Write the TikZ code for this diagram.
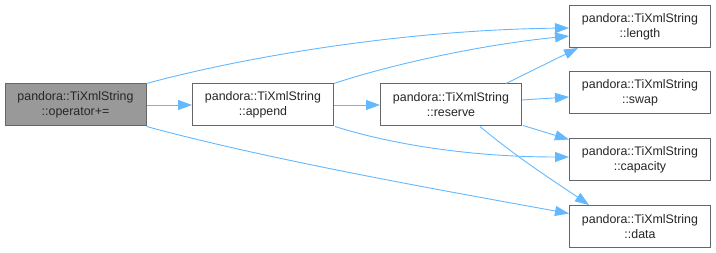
\documentclass[tikz,border=0pt]{standalone}
\usepackage{fontspec}
\setmainfont{Liberation Sans}
\usetikzlibrary{arrows.meta,calc}
\definecolor{edgeblue}{HTML}{63B8FF}
\definecolor{boxline}{HTML}{666666}
\definecolor{curfill}{HTML}{999999}
\begin{document}
\begin{tikzpicture}[x=1pt,y=-1pt,
  fn/.style={draw=boxline,line width=1pt,fill=white,minimum width=141pt,minimum height=42pt,
    inner sep=0pt,align=center,font=\fontsize{12.4}{15}\selectfont,text=black!85},
  cur/.style={fn,fill=curfill},
  call/.style={draw=edgeblue,line width=0.9pt,-{Triangle[length=14pt,width=10pt]},color=edgeblue}]
\useasboundingbox (0,0) rectangle (716,253);
% function boxes
\node[cur] (op)   at (75.5,105)  {pandora::TiXmlString\\::operator+=};
\node[fn]  (app)  at (263,105)   {pandora::TiXmlString\\::append};
\node[fn]  (res)  at (451,105)   {pandora::TiXmlString\\::reserve};
\node[fn]  (len)  at (640,26.5)  {pandora::TiXmlString\\::length};
\node[fn]  (swp)  at (640,93)    {pandora::TiXmlString\\::swap};
\node[fn]  (cap)  at (640,159.5) {pandora::TiXmlString\\::capacity};
\node[fn]  (dat)  at (640,226.5) {pandora::TiXmlString\\::data};
% calls
\draw[call] (op.north east) .. controls (240,58) and (400,30) .. ($(len.west)+(0,1.5)$);
\draw[call] (op.east) -- (app.west);
\draw[call] (op.south east) .. controls (270,160) and (440,190) .. ($(dat.west)+(0,-13)$);
\draw[call] (app.north east) .. controls (380,68) and (470,46) .. ($(len.west)+(0,9.5)$);
\draw[call] (app.east) -- (res.west);
\draw[call] ($(app.south east)+(1,0)$) .. controls (390,144) and (470,157) .. ($(cap.west)+(0,-2.5)$);
\draw[call] ($(res.north east)+(-16,0)$) -- ($(len.south west)+(9,0)$);
\draw[call] ($(res.east)+(0,-5)$) -- ($(swp.west)+(0,4)$);
\draw[call] ($(res.south east)+(1,-1)$) -- ($(cap.west)+(0,-20)$);
\draw[call] ($(res.south)+(29,0)$) .. controls (520,160) and (560,185) .. ($(dat.north west)+(20,0)$);
\end{tikzpicture}
\end{document}
